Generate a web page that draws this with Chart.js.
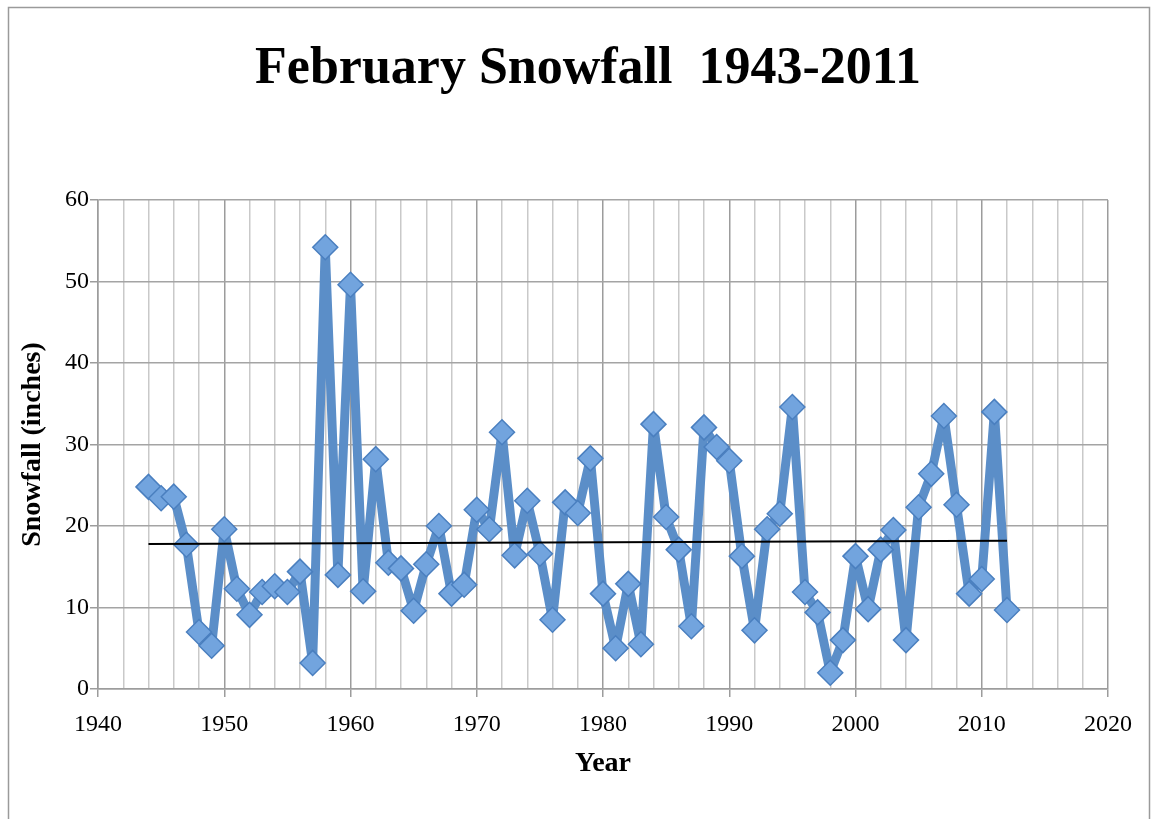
<!DOCTYPE html>
<html>
<head>
<meta charset="utf-8">
<script src="https://cdn.jsdelivr.net/npm/chart.js@4.4.1/dist/chart.umd.min.js"></script>
<style>
html,body{margin:0;padding:0;background:#fff;}
#wrap{position:relative;width:1157px;height:819px;}
</style>
</head>
<body>
<div id="wrap"><canvas id="c" width="1157" height="819"></canvas></div>
<script>
const years = [1944,1945,1946,1947,1948,1949,1950,1951,1952,1953,1954,1955,1956,1957,1958,1959,1960,1961,1962,1963,1964,1965,1966,1967,1968,1969,1970,1971,1972,1973,1974,1975,1976,1977,1978,1979,1980,1981,1982,1983,1984,1985,1986,1987,1988,1989,1990,1991,1992,1993,1994,1995,1996,1997,1998,1999,2000,2001,2002,2003,2004,2005,2006,2007,2008,2009,2010,2011,2012];
const snowfall = [24.8,23.4,23.6,17.7,7.0,5.3,19.6,12.3,9.1,11.9,12.6,11.9,14.4,3.2,54.2,14.0,49.6,12.0,28.2,15.5,14.8,9.6,15.3,20.0,11.7,12.8,22.0,19.6,31.5,16.4,23.1,16.6,8.5,22.9,21.6,28.3,11.7,5.0,12.9,5.5,32.5,21.1,17.1,7.7,32.1,29.7,28.0,16.3,7.2,19.6,21.5,34.6,11.9,9.4,2.0,6.0,16.3,9.8,17.1,19.5,6.0,22.3,26.4,33.5,22.6,11.7,13.5,34.0,9.7];
const trendYears = [1944, 2012];
const trendValues = [17.8, 18.2];
const yTicks = [0,10,20,30,40,50,60];
const xTickLabels = [1940,1950,1960,1970,1980,1990,2000,2010,2020];

const serif = "'Liberation Serif', 'DejaVu Serif', serif";

const frame = {
  id:'frame',
  beforeDraw(chart){
    const ctx = chart.ctx;
    ctx.save();
    ctx.fillStyle='#fff';
    ctx.fillRect(0,0,chart.width,chart.height);
    ctx.strokeStyle='#9a9a9a';
    ctx.lineWidth=1.5;
    ctx.strokeRect(8.5,7.5,1141,830);
    ctx.restore();
  },
  afterDraw(chart){
    const ctx = chart.ctx;
    ctx.save();
    ctx.fillStyle='#000';
    ctx.font = "bold 52px " + serif;
    ctx.textAlign='center';
    ctx.textBaseline='middle';
    ctx.fillText('February Snowfall  1943-2011', 588, 70);
    ctx.restore();
  }
};

new Chart(document.getElementById('c'), {
  type:'line',
  data:{
    datasets:[
      {
        label:'Snowfall',
        data: years.map((y,i)=>({x:y, y:snowfall[i]})),
        borderColor:'#5b8ec8',
        borderWidth:9,
        borderJoinStyle:'round',
        pointStyle:'rectRot',
        pointRadius:12.5,
        pointBackgroundColor:'#72a4de',
        pointBorderColor:'#4a7fbf',
        pointBorderWidth:1.5,
        tension:0,
        order:2
      },
      {
        label:'Trend',
        data: trendYears.map((y,i)=>({x:y, y:trendValues[i]})),
        borderColor:'#000',
        borderWidth:2,
        pointRadius:0,
        order:1
      }
    ]
  },
  plugins:[frame],
  options:{
    responsive:false,
    animation:false,
    layout:{padding:{top:200,right:49,left:0,bottom:34}},
    plugins:{legend:{display:false},tooltip:{enabled:false},title:{display:false}},
    scales:{
      x:{
        type:'linear',
        min:1940,max:2020,
        afterFit(s){ s.height = 96; },
        ticks:{
          stepSize:2,
          autoSkip:false,
          maxRotation:0,
          padding:13,
          color:'#000',
          font:{family:serif,size:24},
          callback:(v)=> xTickLabels.includes(v) ? String(v) : ''
        },
        grid:{
          color:(c)=> (c.tick && c.tick.value % 10 === 0) ? '#9c9c9c' : '#c9c9c9',
          lineWidth:1.5,
          tickLength:8,
          tickColor:(c)=> (c.tick && c.tick.value % 10 === 0) ? '#9c9c9c' : 'rgba(0,0,0,0)'
        },
        border:{color:'#9c9c9c',width:1.5},
        title:{display:true,text:'Year',color:'#000',font:{family:serif,size:28,weight:'bold'},padding:{top:10}}
      },
      y:{
        min:0,max:60,
        afterFit(s){ s.width = 98; },
        afterBuildTicks(s){ s.ticks = yTicks.map(v=>({value:v})); },
        ticks:{
          color:'#000',
          padding:1,
          font:{family:serif,size:24}
        },
        grid:{color:'#a4a4a4',lineWidth:1.5,tickLength:8,tickColor:'#9c9c9c'},
        border:{color:'#9c9c9c',width:1.5},
        title:{display:true,text:'Snowfall (inches)',color:'#000',font:{family:serif,size:28,weight:'bold'},padding:{top:16}}
      }
    }
  }
});
</script>
</body>
</html>
